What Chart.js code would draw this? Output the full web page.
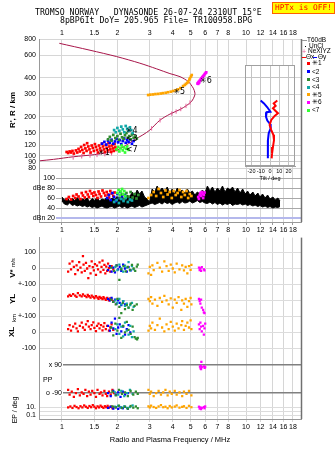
<!DOCTYPE html>
<html>
<head>
<meta charset="utf-8">
<title>Dynasonde ionogram</title>
<script src="https://cdn.jsdelivr.net/npm/chart.js@4.4.1/dist/chart.umd.min.js"></script>
<style>
body{margin:0;width:335px;height:451px;position:relative;overflow:hidden;background:#fff;font-family:"Liberation Sans",Arial,sans-serif;color:#000}
canvas{position:absolute}
.txt{position:absolute;white-space:pre;line-height:1}
.mono{font-family:"DejaVu Sans Mono",monospace;font-size:8.2px}
.vt{position:absolute;white-space:pre;line-height:1;transform:translate(-50%,-50%) rotate(-90deg);font-weight:bold}
.lg{position:absolute;font-size:6.5px;line-height:1;white-space:pre}
.sw{position:absolute;width:3px;height:3px}
</style>
</head>
<body>
<canvas id="top" width="335" height="236" style="left:0;top:0"></canvas>
<canvas id="low" width="335" height="215" style="left:0;top:236px"></canvas>
<canvas id="tilt" width="62" height="122" style="left:240px;top:60px"></canvas>

<div class="txt mono" style="left:35px;top:7.8px">TROMSO NORWAY   DYNASONDE 26-07-24 2310UT 15°E</div>
<div class="txt mono" style="left:60px;top:16.4px">8pBP6It DoY= 205.965 File= TR100958.BPG</div>
<div class="txt mono" style="left:272px;top:1.5px;width:61px;height:10px;background:#ffff00;border:1px solid #ff6000;color:#ff0000;text-align:center;line-height:10px;font-size:7.9px">HPTx is OFF!</div>

<div class="vt" style="left:12.5px;top:110px;font-size:8px">R', R / km</div>
<div class="vt" style="left:13px;top:268px;font-size:8px">V* <span style="font-size:5.5px;font-weight:normal">m/s</span></div>
<div class="vt" style="left:12.5px;top:299px;font-size:8px">YL</div>
<div class="vt" style="left:14px;top:318px;font-size:6px;font-weight:normal">km</div>
<div class="vt" style="left:12px;top:332px;font-size:8px">XL</div>
<div class="vt" style="left:13.5px;top:410px;font-size:7px;font-weight:normal">EP / deg</div>
<div class="txt" style="left:43px;top:375.5px;font-size:7px">PP</div>
<div class="txt" style="left:170px;top:435.5px;font-size:7.5px;transform:translateX(-50%)">Radio and Plasma Frequency / MHz</div>

<div class="sw" style="left:302px;top:39.5px;width:5px;height:1px;background:#999"></div>
<div class="lg" style="left:307px;top:36.8px">T60dB</div>
<div class="sw" style="left:305px;top:46px;width:1px;height:1px;background:#000"></div>
<div class="lg" style="left:309px;top:43.4px">UnCl</div>
<div class="lg" style="left:302px;top:48px;color:#e8609a;font-size:7px">+</div>
<div class="lg" style="left:308px;top:48px">NeXIYZ</div>
<div class="sw" style="left:302px;top:56.5px;width:4px;height:1px;background:#ff0000"></div>
<div class="lg" style="left:306px;top:53.6px">Θx</div>
<div class="sw" style="left:313px;top:56.5px;width:4px;height:1px;background:#0000ff"></div>
<div class="lg" style="left:318px;top:53.6px">Θy</div>

<div class="sw" style="left:307px;top:62px;background:#ff0000"></div><div class="lg" style="left:312px;top:60.2px">✳1</div>
<div class="sw" style="left:307px;top:70.2px;background:#0000ff"></div><div class="lg" style="left:312px;top:68.5px">&lt;2</div>
<div class="sw" style="left:307px;top:78.2px;background:#2e8b2e"></div><div class="lg" style="left:312px;top:76.5px">&lt;3</div>
<div class="sw" style="left:307px;top:85.8px;background:#10a8a8"></div><div class="lg" style="left:312px;top:84.1px">&lt;4</div>
<div class="sw" style="left:307px;top:93.2px;background:#ffa500"></div><div class="lg" style="left:312px;top:91.5px">✳5</div>
<div class="sw" style="left:307px;top:100.8px;background:#ff00ff"></div><div class="lg" style="left:312px;top:99.1px">✳6</div>
<div class="sw" style="left:307px;top:108.5px;background:#33ff33"></div><div class="lg" style="left:312px;top:106.8px">&lt;7</div>

<script>
// axis ticks
const freqTicks = [1, 1.5, 2, 3, 4, 5, 6, 7, 8, 10, 12, 14, 16, 18];
const heightTicks = [80, 90, 100, 120, 150, 200, 300, 400, 600, 800];
const dbTicks = [20, 40, 60, 80, 100];
const dbTickText = ['dBn 20', '40', '60', 'dBe 80', '100'];
const tiltTicks = [-20, -10, 0, 10, 20];
const ppTicks = [90, -90];
const ppTickText = ['x 90', 'o -90'];

// model profile and NeXIYZ points (MHz, km)
const profileCurve = [[0.76,91.5],[0.9,93.8],[1.15,98.2],[1.5,102],[1.75,105.5],[2.0,111],[2.15,117],[2.3,124],[2.45,132],[2.75,145],[3.0,158],[3.4,188],[3.86,210],[4.38,228],[4.76,245],[5.07,264],[5.25,290],[5.28,305],[5.17,333],[4.86,374],[4.38,409],[3.86,432],[3.27,470],[2.65,520],[1.98,585],[1.42,655],[0.967,741]];
const nexiyz = [[1.15,97],[1.28,99],[1.42,100.5],[1.55,101.5],[1.71,103],[1.86,104.5],[3.07,163],[3.41,188],[3.95,212],[4.17,220],[4.42,230],[4.72,243],[4.96,258]];

// echo clusters, virtual height (MHz, km)
const redH = [[1.06,107],[1.08,105],[1.1,108],[1.12,106],[1.14,109],[1.16,104],[1.19,110],[1.21,106],[1.23,113],[1.25,108],[1.27,117],[1.29,111],[1.31,105],[1.32,121],[1.34,114],[1.36,109],[1.37,125],[1.39,118],[1.41,112],[1.43,106],[1.45,120],[1.47,115],[1.49,109],[1.51,123],[1.53,117],[1.55,111],[1.57,106],[1.59,120],[1.61,114],[1.63,109],[1.65,124],[1.67,118],[1.69,112],[1.71,107],[1.73,121],[1.75,115],[1.77,110],[1.79,125],[1.81,118],[1.83,112],[1.85,107],[1.87,120],[1.89,114],[1.91,109],[1.93,123],[1.95,116],[1.97,111]];
const blueH = [[1.65,124],[1.7,128],[1.74,122],[1.78,131],[1.82,126],[1.86,133],[1.9,124],[1.94,129],[1.98,135],[2.02,127],[2.06,132],[2.1,123],[2.14,130],[2.18,136],[2.22,126],[2.26,132],[2.3,128],[2.35,134],[2.4,124],[2.45,130]];
const darkGreenH = [[1.78,134],[1.82,140],[1.86,131],[1.9,145],[1.95,137],[2.0,142],[2.04,133],[2.08,148],[2.12,139],[2.16,135],[2.2,144],[2.24,150],[2.28,138],[2.32,142],[2.36,134],[2.4,146],[2.45,138],[2.5,141],[2.55,136]];
const tealH = [[1.92,158],[1.96,152],[2.0,164],[2.05,156],[2.1,168],[2.14,160],[2.18,152],[2.22,170],[2.26,162],[2.3,156],[2.34,166],[2.38,158],[2.42,150]];
const limeH = [[1.98,112],[2.02,117],[2.05,108],[2.08,114],[2.11,120],[2.14,110],[2.17,116],[2.2,106],[2.23,113],[2.26,118],[2.3,111]];
const orangeH = [[2.94,295],[3.02,297],[3.12,298],[3.22,300],[3.33,301],[3.44,303],[3.54,305],[3.66,307],[3.77,310],[3.9,313],[4.02,317],[4.15,321],[4.27,326],[4.4,334],[4.55,346],[4.65,353],[4.72,360],[4.8,367],[4.86,375],[4.92,388],[4.96,398],[5.02,410],[5.07,421]];
const magentaH = [[5.45,362],[5.5,360],[5.5,368],[5.56,368],[5.55,374],[5.6,380],[5.66,388],[5.72,396],[5.78,404],[5.84,412],[5.9,418],[5.96,428],[6.03,436],[6.08,442]];

// cluster tags (MHz, km, text)
const tagFreq = [1.57, 2.22, 2.22, 2.22, 4.03, 5.63];
const tagHeight = [106, 156, 136, 111, 309, 376];
const tagText = ['✳1', '✳4', '<3', '<7', '✳5', '✳6'];

// amplitude panel (MHz, dB)
const redDb = [[1.06,58],[1.09,62],[1.12,57],[1.15,64],[1.18,60],[1.2,67],[1.23,63],[1.26,58],[1.28,70],[1.3,65],[1.33,61],[1.35,72],[1.38,67],[1.4,62],[1.42,74],[1.45,69],[1.48,64],[1.5,71],[1.53,66],[1.56,60],[1.58,73],[1.6,68],[1.63,63],[1.66,75],[1.69,70],[1.72,65],[1.75,72],[1.78,67],[1.8,61],[1.83,74],[1.86,69],[1.9,64],[1.93,71]];
const blueDb = [[1.76,60],[1.8,66],[1.84,56],[1.88,70],[1.92,62],[1.96,54],[2.0,68],[2.04,60],[2.08,72],[2.12,64],[2.16,57],[2.2,66]];
const darkGreenDb = [[2.06,60],[2.12,67],[2.18,58],[2.24,70],[2.3,63],[2.36,72],[2.42,61],[2.48,68],[2.54,59],[2.6,66]];
const tealDb = [[1.92,52],[1.98,56],[2.04,50],[2.1,58],[2.16,54],[2.22,60],[2.28,52],[2.34,57],[2.4,55]];
const limeDb = [[2.0,70],[2.03,76],[2.06,66],[2.09,73],[2.12,78],[2.15,68],[2.18,74],[2.21,64]];
const orangeDb = [[2.95,60],[3.05,66],[3.15,72],[3.25,64],[3.35,78],[3.45,70],[3.55,62],[3.65,75],[3.75,67],[3.85,72],[3.95,60],[4.05,74],[4.15,66],[4.25,70],[4.35,76],[4.45,62],[4.55,72],[4.65,66],[4.75,74],[4.85,60],[4.95,68],[5.05,64]];
const magentaDb = [[5.5,62],[5.55,58],[5.6,66],[5.65,70],[5.7,64],[5.75,72],[5.8,68],[5.85,60],[5.9,66],[5.95,71]];
const noiseFreq = [1.00,1.03,1.07,1.10,1.14,1.17,1.21,1.25,1.29,1.33,
  1.37,1.41,1.46,1.50,1.55,1.60,1.65,1.70,1.76,1.81,
  1.87,1.93,1.99,2.05,2.12,2.19,2.26,2.33,2.40,2.48,
  2.56,2.64,2.72,2.81,2.90,2.99,3.09,3.19,3.29,3.39,
  3.50,3.61,3.73,3.85,3.97,4.10,4.23,4.36,4.50,4.65,
  4.80,4.95,5.11,5.27,5.44,5.61,5.79,5.98,6.17,6.37,
  6.57,6.78,7.00,7.22,7.45,7.69,7.94,8.19,8.45,8.72,
  9.00,9.29,9.59,9.90,10.2,10.5,10.9,11.2,11.6,11.9,
  12.3,12.7,13.1,13.5,14.0,14.4,14.9,15.3];
const noiseTop = [62,56,60,54,59,55,61,54,58,56,
  60,53,59,55,61,54,58,56,62,55,
  60,57,63,56,62,58,66,60,72,64,
  76,68,74,62,58,52,78,72,84,74,
  80,72,82,70,78,68,80,72,76,70,
  78,70,74,66,72,68,76,70,84,74,
  82,72,80,74,84,72,80,76,82,72,
  80,70,78,68,74,66,72,64,70,62,
  68,60,66,58,62,56,60,54];
const noiseBottom = [54,48,46,50,45,47,44,46,43,45,
  42,44,41,43,40,42,44,41,40,42,
  43,40,42,44,41,43,40,42,44,41,
  43,45,42,44,46,48,50,47,49,51,
  48,52,49,51,47,50,52,49,53,50,
  51,54,50,52,55,51,53,50,49,52,
  48,51,47,50,46,49,47,50,45,48,
  47,49,46,48,45,47,44,46,43,45,
  42,44,41,43,40,42,41,43];

// Doppler velocity V* (MHz, m/s)
const redV = [[1.08,-20],[1.1,30],[1.12,-5],[1.14,45],[1.16,10],[1.18,-35],[1.2,20],[1.22,-10],[1.24,40],[1.26,5],[1.28,-25],[1.3,78],[1.31,25],[1.33,-15],[1.35,35],[1.37,0],[1.39,-60],[1.41,15],[1.43,-30],[1.45,45],[1.47,8],[1.49,-12],[1.51,28],[1.53,-40],[1.55,18],[1.57,-5],[1.6,38],[1.62,-22],[1.64,10],[1.66,50],[1.68,-8],[1.7,22],[1.72,-30],[1.74,12],[1.76,-15],[1.78,30],[1.8,2],[1.83,-20],[1.86,15],[1.9,-5]];
const blueV = [[1.78,-10],[1.82,15],[1.86,-20],[1.9,5],[1.94,-25],[1.98,20],[2.02,-5],[2.06,10],[2.1,-15],[2.15,25],[2.2,0],[2.25,-20],[2.3,8],[2.36,-12]];
const darkGreenV = [[1.85,5],[1.92,-15],[1.98,20],[2.05,-72],[2.1,-5],[2.16,15],[2.22,-18],[2.28,10],[2.34,-8],[2.4,22],[2.45,0],[2.5,-15],[2.55,12],[2.58,25]];
const tealV = [[1.95,10],[2.0,-10],[2.05,25],[2.1,0],[2.15,-20],[2.2,18],[2.25,5],[2.3,40],[2.35,-12],[2.4,15],[2.45,-5]];
const orangeV = [[2.95,-30],[3.0,10],[3.05,-40],[3.1,20],[3.15,-10],[3.3,35],[3.4,5],[3.5,-20],[3.6,45],[3.7,15],[3.8,-15],[3.9,25],[4.0,0],[4.1,-25],[4.2,30],[4.35,-5],[4.5,20],[4.6,-12],[4.7,10],[4.8,-30],[4.9,15],[5.0,-8],[5.05,22]];
const magentaV = [[5.55,5],[5.6,-10],[5.65,0],[5.7,-15],[5.75,8],[5.9,-5],[5.95,-12]];

// YL (MHz, km)
const redYL = [[1.08,25],[1.1,35],[1.12,28],[1.15,40],[1.18,30],[1.2,22],[1.22,45],[1.25,32],[1.28,25],[1.3,38],[1.33,28],[1.36,20],[1.38,34],[1.4,26],[1.43,18],[1.45,30],[1.48,22],[1.5,14],[1.53,26],[1.56,18],[1.58,10],[1.6,22],[1.63,15],[1.66,8],[1.68,20],[1.7,12],[1.73,4],[1.76,16],[1.78,8],[1.8,0],[1.83,12],[1.86,4],[1.9,-6]];
const blueYL = [[1.78,10],[1.82,0],[1.86,15],[1.9,-10],[1.94,5],[1.98,-20],[2.02,0],[2.06,-15],[2.1,-30],[2.15,-5],[2.2,-25]];
const darkGreenYL = [[1.85,5],[1.9,-10],[1.96,-25],[2.0,10],[2.05,-40],[2.1,-80],[2.14,-15],[2.2,-55],[2.25,-30],[2.3,-45],[2.36,-20],[2.42,-60],[2.48,-35],[2.55,-25]];
const tealYL = [[1.95,0],[2.0,-15],[2.05,10],[2.1,-25],[2.15,-5],[2.2,-35],[2.25,-20],[2.3,-45],[2.35,-30],[2.4,-15],[2.45,-40]];
const orangeYL = [[2.95,10],[3.0,-5],[3.05,20],[3.1,-20],[3.2,5],[3.3,-35],[3.4,15],[3.5,-10],[3.6,28],[3.7,0],[3.8,-25],[3.9,12],[4.0,-45],[4.1,5],[4.2,-15],[4.3,20],[4.45,-60],[4.5,0],[4.6,-20],[4.7,10],[4.8,-40],[4.9,-5],[5.0,15],[5.05,-25]];
const magentaYL = [[5.55,10],[5.6,-5],[5.65,-20],[5.7,5],[5.75,-45],[5.85,-60],[5.9,-75],[5.95,-80]];

// XL (MHz, km)
const redXL = [[1.08,20],[1.1,45],[1.12,10],[1.15,35],[1.18,55],[1.2,25],[1.22,5],[1.25,40],[1.28,60],[1.3,30],[1.33,15],[1.35,50],[1.38,70],[1.4,35],[1.43,20],[1.45,45],[1.48,62],[1.5,28],[1.53,8],[1.55,40],[1.58,55],[1.6,25],[1.63,45],[1.66,12],[1.68,35],[1.7,58],[1.73,20],[1.76,40],[1.8,10],[1.83,30],[1.86,50],[1.9,15]];
const blueXL = [[1.78,40],[1.82,10],[1.86,60],[1.9,25],[1.94,85],[1.98,-10],[2.02,30],[2.06,50],[2.1,5],[2.15,35],[2.2,-15],[2.25,20],[2.3,45],[2.35,0]];
const darkGreenXL = [[1.85,30],[1.9,-20],[1.95,55],[2.0,10],[2.05,90],[2.1,-35],[2.15,40],[2.2,0],[2.25,65],[2.3,15],[2.36,-10],[2.42,35],[2.48,-30],[2.52,-40],[2.56,-45],[2.58,-35]];
const tealXL = [[1.95,20],[2.0,50],[2.05,-10],[2.1,35],[2.15,-25],[2.2,60],[2.25,10],[2.3,-15],[2.35,40],[2.4,-30],[2.45,5]];
const orangeXL = [[2.95,10],[3.0,40],[3.05,25],[3.1,60],[3.2,15],[3.3,45],[3.4,85],[3.5,30],[3.6,5],[3.7,50],[3.8,20],[3.9,65],[4.0,35],[4.1,10],[4.2,55],[4.3,25],[4.45,45],[4.5,70],[4.6,15],[4.7,40],[4.8,60],[4.9,30],[5.0,75],[5.05,20]];
const magentaXL = [[5.55,50],[5.6,20],[5.65,60],[5.7,35],[5.75,5],[5.85,40],[5.9,-15],[5.95,25],[6.0,55]];

// polarization PP (MHz, deg)
const redPP = [[1.08,-70],[1.1,-100],[1.13,-80],[1.16,-115],[1.19,-90],[1.22,-65],[1.25,-105],[1.28,-85],[1.31,-95],[1.34,-70],[1.37,-110],[1.4,-80],[1.43,-100],[1.46,-75],[1.5,-90],[1.53,-115],[1.56,-70],[1.6,-95],[1.63,-85],[1.66,-105],[1.7,-75],[1.73,-95],[1.76,-110],[1.8,-80],[1.84,-100],[1.88,-70],[1.92,-90]];
const bluePP = [[1.78,-90],[1.84,-110],[1.9,-75],[1.96,-100],[2.02,-85],[2.08,-115],[2.14,-80],[2.2,-100],[2.28,-90]];
const darkGreenPP = [[1.88,-80],[1.96,-105],[2.04,-70],[2.12,-95],[2.2,-85],[2.28,-110],[2.36,-75],[2.44,-100],[2.52,-80],[2.58,-95]];
const tealPP = [[1.94,-85],[2.02,-100],[2.1,-75],[2.18,-110],[2.26,-90],[2.34,-70],[2.42,-95]];
const orangePP = [[2.95,-70],[3.0,-95],[3.05,-80],[3.15,-110],[3.25,-90],[3.35,-75],[3.45,-100],[3.55,-85],[3.65,-70],[3.75,-105],[3.85,-80],[3.95,-95],[4.1,-75],[4.2,-100],[4.35,-85],[4.5,-110],[4.6,-80],[4.75,-95],[4.9,-75],[5.05,-105]];
const magentaPP = [[5.72,112],[5.62,80],[5.66,70],[5.7,65],[5.75,78],[5.68,85],[5.92,82],[5.96,72],[6.0,78]];

// EP (MHz, deg)
const redEP = [[1.08,8],[1.11,14],[1.14,6],[1.17,20],[1.2,10],[1.23,5],[1.26,16],[1.29,8],[1.32,25],[1.35,12],[1.38,6],[1.41,18],[1.44,9],[1.47,30],[1.5,12],[1.53,5],[1.56,15],[1.59,8],[1.62,22],[1.65,11],[1.68,6],[1.71,16],[1.74,9],[1.77,20],[1.8,7],[1.84,13],[1.88,5],[1.92,10]];
const blueEP = [[1.78,6],[1.84,12],[1.9,4],[1.96,9],[2.02,3.5],[2.08,8],[2.14,5],[2.2,11],[2.28,4]];
const darkGreenEP = [[1.88,15],[1.96,8],[2.04,22],[2.12,6],[2.2,12],[2.28,4],[2.36,18],[2.44,7],[2.52,14],[2.58,5]];
const tealEP = [[1.94,12],[2.02,20],[2.1,8],[2.18,15],[2.26,6],[2.34,10],[2.42,25]];
const orangeEP = [[2.95,15],[3.0,8],[3.05,22],[3.15,10],[3.25,6],[3.35,14],[3.45,30],[3.55,9],[3.65,12],[3.75,5],[3.85,18],[3.95,8],[4.1,13],[4.2,25],[4.35,7],[4.5,11],[4.6,16],[4.75,6],[4.9,20],[5.05,9]];
const magentaEP = [[5.55,12],[5.6,4],[5.65,8],[5.7,3],[5.75,6],[5.9,10],[5.95,5],[6.0,14]];

// tilt inset (deg, km)
const tiltXHeight = [267,254,243,233,223,213,203,189,173,158,145,132,117,104,95.5];
const tiltX = [7.9,4.0,6.1,3.2,5.8,8.6,5.0,1.4,-0.4,1.4,3.6,4.3,3.2,2.2,1.8];
const tiltYHeight = [267,254,237,219,217,200,187,176,163,149,132,117,104,95.5];
const tiltY = [-10.1,-6.5,-2.9,0.4,-3.6,-4.3,-2.9,0,0.7,-1.4,-2.2,-2.2,-2.5,-2.2];

const COL = { red: '#ff0000', blue: '#0000ff', darkGreen: '#2e8b2e', teal: '#10a8a8', orange: '#ffa500', magenta: '#ff00ff', lime: '#33ff33' };
const F_MIN = 0.75, F_MAX = 19.9;
const font7 = { family: '"Liberation Sans", Arial, sans-serif', size: 7 };

const pts = arr => arr.map(([x, y]) => ({ x, y }));
const pairs = (xs, ys) => xs.map((x, i) => ({ x, y: ys[i] }));
const setTicks = vals => s => { s.ticks = vals.map(v => ({ value: v })); };
// fixed axis size, and no extra room for half-labels at the ends
const fixWidth = w => s => { s.width = w; s.paddingTop = 0; s.paddingBottom = 0; };
const fixHeight = hgt => s => { s.height = hgt; s.paddingLeft = 0; s.paddingRight = 0; };

function cloud(arr, color, yAxisID, r) {
  return { type: 'scatter', data: pts(arr), xAxisID: 'x', yAxisID, order: 1,
    pointStyle: 'rect', pointRadius: r || 1.9, pointHoverRadius: 0,
    pointBorderWidth: 0, backgroundColor: color, borderColor: color };
}

// labels drawn inside the plot, right aligned, on a white patch
function innerLabels(axisId, values, texts, rightX) {
  return {
    id: 'inner_' + axisId,
    afterDraw(chart) {
      const s = chart.scales[axisId], ctx = chart.ctx, left = chart.chartArea.left + 1;
      ctx.save();
      ctx.font = '7px "Liberation Sans", Arial, sans-serif';
      ctx.textAlign = 'right';
      ctx.textBaseline = 'middle';
      values.forEach((v, i) => {
        const y = s.getPixelForValue(v);
        ctx.fillStyle = '#fff';
        ctx.fillRect(left, y - 3, rightX + 1 - left, 6);
        ctx.fillStyle = '#000';
        ctx.fillText(texts[i], rightX, y);
      });
      ctx.restore();
    }
  };
}

const rightEdge = {
  id: 'rightEdge',
  afterDraw(chart) {
    const { ctx, chartArea: a } = chart;
    ctx.save();
    ctx.strokeStyle = '#707070';
    ctx.lineWidth = 1.5;
    ctx.beginPath();
    ctx.moveTo(a.right + 0.5, a.top);
    ctx.lineTo(a.right + 0.5, a.bottom);
    ctx.stroke();
    ctx.restore();
  }
};

const clusterTags = {
  id: 'clusterTags',
  afterDatasetsDraw(chart) {
    const { ctx, scales: { x, h } } = chart;
    ctx.save();
    ctx.font = '8px "DejaVu Sans", sans-serif';
    ctx.fillStyle = '#000';
    ctx.textBaseline = 'middle';
    tagText.forEach((t, i) => ctx.fillText(t, x.getPixelForValue(tagFreq[i]), h.getPixelForValue(tagHeight[i])));
    ctx.restore();
  }
};

const base = {
  responsive: false, animation: false, devicePixelRatio: 1, events: [],
  plugins: { legend: { display: false }, tooltip: { enabled: false } }
};

function freqAxis(position, height, showGrid) {
  return {
    type: 'logarithmic', position, min: F_MIN, max: F_MAX,
    afterBuildTicks: setTicks(freqTicks),
    afterFit: fixHeight(height),
    ticks: { font: font7, color: '#000', padding: position === 'top' ? 2 : 1, autoSkip: false, maxRotation: 0, callback: v => String(v) },
    grid: showGrid ? { color: '#d6d6d6', drawTicks: position !== 'top', tickLength: 3 }
                   : { drawOnChartArea: false, tickLength: 3, color: '#999' },
    border: { display: position !== 'top', color: '#999' }
  };
}

// ---- top chart: heights + amplitudes
new Chart(document.getElementById('top'), {
  type: 'scatter',
  data: {
    datasets: [
      cloud(limeH, COL.lime, 'h'),
      cloud(tealH, COL.teal, 'h'),
      cloud(darkGreenH, COL.darkGreen, 'h'),
      cloud(blueH, COL.blue, 'h'),
      cloud(redH, COL.red, 'h'),
      cloud(orangeH, COL.orange, 'h'),
      cloud(magentaH, COL.magenta, 'h'),
      { type: 'scatter', data: pts(nexiyz), xAxisID: 'x', yAxisID: 'h', order: 2,
        pointStyle: 'line', rotation: 90, pointRadius: 2.2, pointBorderWidth: 1, borderColor: '#e8609a', pointHoverRadius: 0 },
      { type: 'line', data: pts(profileCurve), xAxisID: 'x', yAxisID: 'h', order: 3,
        borderColor: '#a8164a', borderWidth: 1, pointRadius: 0, tension: 0.3, fill: false },
      cloud(limeDb, COL.lime, 'db'),
      cloud(tealDb, COL.teal, 'db'),
      cloud(darkGreenDb, COL.darkGreen, 'db'),
      cloud(blueDb, COL.blue, 'db'),
      cloud(redDb, COL.red, 'db'),
      cloud(orangeDb, COL.orange, 'db'),
      cloud(magentaDb, COL.magenta, 'db'),
      { type: 'line', data: pairs(noiseFreq, noiseTop), xAxisID: 'x', yAxisID: 'db', order: 4,
        borderColor: '#000', backgroundColor: '#000', borderWidth: 1, pointRadius: 0, fill: '+1' },
      { type: 'line', data: pairs(noiseFreq, noiseBottom), xAxisID: 'x', yAxisID: 'db', order: 4,
        borderColor: '#000', borderWidth: 1, pointRadius: 0, fill: false }
    ]
  },
  options: {
    ...base,
    layout: { padding: { left: 0, right: 34, top: 0, bottom: 0 } },
    scales: {
      x: freqAxis('top', 39, true),
      x2: freqAxis('bottom', 14, false),
      h: {
        type: 'logarithmic', position: 'left', stack: 'left', stackWeight: 130, weight: 2, min: 79, max: 800,
        afterBuildTicks: setTicks(heightTicks), afterFit: fixWidth(39),
        ticks: { font: font7, color: '#000', padding: 3, autoSkip: false, callback: v => String(v) },
        grid: { color: '#d6d6d6', drawTicks: false }, border: { color: '#999' }
      },
      db: {
        type: 'linear', position: 'left', stack: 'left', stackWeight: 53, weight: 1, min: 12, max: 118,
        afterBuildTicks: setTicks(dbTicks), afterFit: fixWidth(39),
        ticks: { display: false },
        grid: { color: c => (c.tick && c.tick.value === 20) ? '#b4b8ec' : '#a8a8a8',
                lineWidth: c => (c.tick && c.tick.value === 20) ? 2 : 1, drawTicks: false },
        border: { color: '#999' }
      }
    }
  },
  plugins: [clusterTags, innerLabels('db', dbTicks, dbTickText, 55), rightEdge]
});

// ---- lower chart: V*, YL, XL, PP, EP
const lowerRows = [
  [COL.darkGreen, darkGreenV, darkGreenYL, darkGreenXL, darkGreenPP, darkGreenEP],
  [COL.teal, tealV, tealYL, tealXL, tealPP, tealEP],
  [COL.blue, blueV, blueYL, blueXL, bluePP, blueEP],
  [COL.red, redV, redYL, redXL, redPP, redEP],
  [COL.orange, orangeV, orangeYL, orangeXL, orangePP, orangeEP],
  [COL.magenta, magentaV, magentaYL, magentaXL, magentaPP, magentaEP]
];
const lowerAxes = ['v', 'yl', 'xl', 'pp', 'ep'];
const lowerSets = lowerRows.flatMap(([c, ...series]) => series.map((s, i) => cloud(s, c, lowerAxes[i], 1.6)));

const tickStyle = cb => ({ font: font7, color: '#000', padding: 3, autoSkip: false, callback: cb });

function leftAxis(extra) {
  return Object.assign({
    type: 'linear', position: 'left', stack: 'left',
    afterFit: fixWidth(39),
    ticks: tickStyle(v => String(v)),
    grid: { color: '#dcdcdc', drawTicks: false }, border: { color: '#999' }
  }, extra);
}

new Chart(document.getElementById('low'), {
  type: 'scatter',
  data: { datasets: lowerSets },
  options: {
    ...base,
    layout: { padding: { left: 0, right: 34, top: 1, bottom: 0 } },
    scales: {
      x: freqAxis('bottom', 32, true),
      v: leftAxis({ stackWeight: 47, weight: 5, min: -100, max: 193.75, afterBuildTicks: setTicks([0, 100]) }),
      yl: leftAxis({ stackWeight: 32, weight: 4, min: -100, max: 100, afterBuildTicks: setTicks([-100, 0, 100]),
                     ticks: tickStyle(v => v === 0 ? '0' : '+-100') }),
      xl: leftAxis({ stackWeight: 40, weight: 3, min: -150, max: 100, afterBuildTicks: setTicks([-100, 0]) }),
      pp: leftAxis({ stackWeight: 44, weight: 2, min: -135, max: 147.86, afterBuildTicks: setTicks(ppTicks),
                     ticks: { display: false }, grid: { color: '#808080', lineWidth: 1.5, drawTicks: false } }),
      ep: leftAxis({ type: 'logarithmic', stackWeight: 19, weight: 1, min: 0.01, max: 562, afterBuildTicks: setTicks([0.1, 1, 10]),
                     ticks: tickStyle(v => v === 10 ? '10.' : (v === 0.1 ? '0.1' : '')) })
    }
  },
  plugins: [innerLabels('pp', ppTicks, ppTickText, 62), rightEdge]
});

// ---- tilt inset
new Chart(document.getElementById('tilt'), {
  type: 'scatter',
  data: {
    datasets: [
      { type: 'line', data: pairs(tiltX, tiltXHeight), xAxisID: 'tx', yAxisID: 'th', borderColor: COL.red, borderWidth: 2, pointRadius: 0 },
      { type: 'line', data: pairs(tiltY, tiltYHeight), xAxisID: 'tx', yAxisID: 'th', borderColor: COL.blue, borderWidth: 2, pointRadius: 0 }
    ]
  },
  options: {
    ...base,
    layout: { padding: { left: 5, right: 7, top: 5, bottom: 0 } },
    scales: {
      tx: {
        type: 'linear', position: 'bottom', min: -27, max: 27,
        afterBuildTicks: setTicks(tiltTicks), afterFit: fixHeight(16),
        ticks: { font: { family: font7.family, size: 5.5 }, color: '#000', padding: 2, autoSkip: false, maxRotation: 0 },
        grid: { color: '#c4c4c4', drawTicks: false }, border: { color: '#a0a0a0' },
        title: { display: true, text: 'Tilt / deg', font: { family: font7.family, size: 5.5 }, color: '#000', padding: 0 }
      },
      th: {
        type: 'logarithmic', position: 'left', min: 83.3, max: 503,
        afterBuildTicks: setTicks(heightTicks.filter(v => v > 84 && v < 500)), afterFit: fixWidth(0),
        ticks: { display: false }, grid: { color: '#c4c4c4', drawTicks: false }, border: { color: '#a0a0a0' }
      }
    }
  },
  plugins: [{
    id: 'insetBox',
    beforeDraw(chart) {
      const { ctx, chartArea: a } = chart;
      ctx.save();
      ctx.fillStyle = '#fff';
      ctx.fillRect(a.left, a.top, a.right - a.left, a.bottom - a.top);
      ctx.restore();
    },
    afterDraw(chart) {
      const { ctx, chartArea: a } = chart;
      ctx.save();
      ctx.strokeStyle = '#a0a0a0';
      ctx.strokeRect(a.left + 0.5, a.top + 0.5, a.right - a.left - 1, a.bottom - a.top - 1);
      ctx.restore();
    }
  }]
});
</script>
</body>
</html>
